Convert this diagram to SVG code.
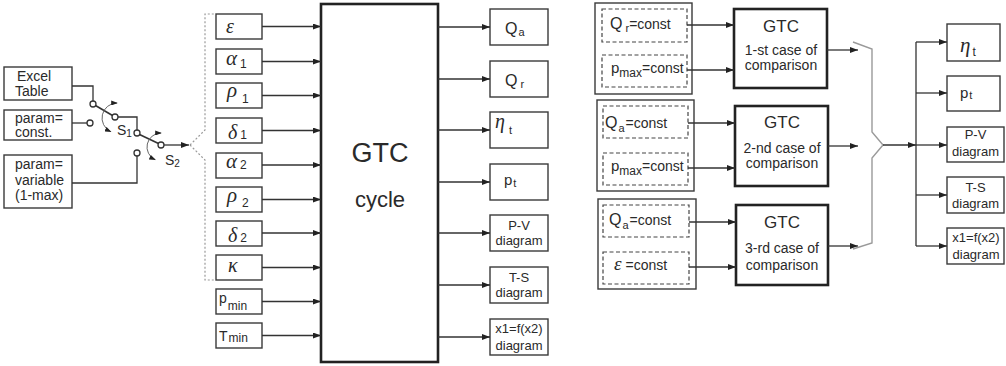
<svg xmlns="http://www.w3.org/2000/svg" width="1006" height="366" viewBox="0 0 1006 366">
<defs>
<marker id="ah" viewBox="0 0 8 6" refX="8" refY="3" markerWidth="8" markerHeight="6" markerUnits="userSpaceOnUse" orient="auto"><path d="M0,0 L8,3 L0,6 z" fill="#222"/></marker>
<marker id="ahs" viewBox="0 0 8 6" refX="7" refY="3" markerWidth="7" markerHeight="5" markerUnits="userSpaceOnUse" orient="auto-start-reverse"><path d="M0,0 L8,3 L0,6 z" fill="#222"/></marker>
<style>
.box{fill:#fff;stroke:#3a3a3a;stroke-width:1.4}
.thick{fill:#fff;stroke:#222;stroke-width:2.6}
.dash{fill:none;stroke:#444;stroke-width:1.2;stroke-dasharray:4 2.5}
.wire{fill:none;stroke:#333;stroke-width:1.3}
.arr{marker-end:url(#ah)}
.gray{fill:none;stroke:#9a9a9a;stroke-width:1.4}
.gdash{fill:none;stroke:#9a9a9a;stroke-width:1.2;stroke-dasharray:2 2}
.ct{fill:#fff;stroke:#333;stroke-width:1.3}
.arc{fill:none;stroke:#666;stroke-width:1;marker-start:url(#ahs);marker-end:url(#ahs)}
text{font-family:"Liberation Sans",Arial,sans-serif;fill:#2a2a2a}
.g{font-family:"Liberation Serif","Times New Roman",serif;font-style:italic}
.m{text-anchor:middle}
</style>
</defs>
<rect width="1006" height="366" fill="#fff"/>

<!-- left sources -->
<g id="src-excel"><rect class="box" x="4" y="67" width="68" height="33"/><text x="17" y="81" font-size="14">Excel</text><text x="15" y="96" font-size="14">Table</text></g>
<g id="src-const"><rect class="box" x="4" y="110" width="68" height="30"/><text x="15" y="123" font-size="14">param=</text><text x="15" y="137" font-size="14">const.</text></g>
<g id="src-var"><rect class="box" x="4" y="155" width="68" height="53"/><text x="15" y="169" font-size="14">param=</text><text x="15" y="185" font-size="14">variable</text><text x="15" y="200" font-size="14">(1-max)</text></g>

<!-- switches -->
<g id="switch-S1">
<line class="wire" x1="95.5" y1="105.5" x2="112.5" y2="115.5" style="stroke-width:1.6"/>
<circle class="ct" cx="93" cy="104" r="3"/><circle class="ct" cx="90" cy="123" r="3"/><circle class="ct" cx="115" cy="117" r="3"/>
<path class="arc" d="M117,103 A15,15 0 0 0 110.7,131.6"/>
<text x="117" y="135" font-size="14">S<tspan font-size="10" dy="2">1</tspan></text>
</g>
<g id="switch-S2">
<line class="wire" x1="139.5" y1="134.5" x2="158.5" y2="143.5" style="stroke-width:1.6"/>
<circle class="ct" cx="137" cy="133" r="3"/><circle class="ct" cx="137" cy="153" r="3"/><circle class="ct" cx="161" cy="145" r="3"/>
<path class="arc" d="M161,133 A14,14 0 0 0 155.1,159.7"/>
<text x="165" y="165" font-size="14">S<tspan font-size="10" dy="2">2</tspan></text>
</g>

<!-- inputs -->
<g id="in-eps"><rect class="box" x="216" y="14" width="46" height="25"/><text class="g" x="226" y="33" font-size="20">ε</text></g>
<g id="in-alpha1"><rect class="box" x="216" y="49" width="46" height="25"/><text x="226" y="65"><tspan class="g" font-size="21">α</tspan><tspan font-size="12" dx="3" dy="3">1</tspan></text></g>
<g id="in-rho1"><rect class="box" x="216" y="83" width="46" height="25"/><text x="227" y="97"><tspan class="g" font-size="21">ρ</tspan><tspan font-size="12" dx="5" dy="6">1</tspan></text></g>
<g id="in-delta1"><rect class="box" x="216" y="118" width="46" height="25"/><text x="228" y="139"><tspan class="g" font-size="20">δ</tspan><tspan font-size="12" dx="3">1</tspan></text></g>
<g id="in-alpha2"><rect class="box" x="216" y="153" width="46" height="25"/><text x="226" y="168"><tspan class="g" font-size="21">α</tspan><tspan font-size="12" dx="3" dy="1">2</tspan></text></g>
<g id="in-rho2"><rect class="box" x="216" y="187" width="46" height="25"/><text x="227" y="202"><tspan class="g" font-size="21">ρ</tspan><tspan font-size="12" dx="5" dy="5">2</tspan></text></g>
<g id="in-delta2"><rect class="box" x="216" y="221" width="46" height="25"/><text x="228" y="242"><tspan class="g" font-size="20">δ</tspan><tspan font-size="12" dx="3">2</tspan></text></g>
<g id="in-kappa"><rect class="box" x="216" y="255" width="46" height="25"/><text class="g" x="228" y="272" font-size="20">κ</text></g>
<g id="in-pmin"><rect class="box" x="216" y="289" width="46" height="25"/><text x="219" y="303"><tspan font-size="14">p</tspan><tspan font-size="12" dx="1" dy="7">min</tspan></text></g>
<g id="in-tmin"><rect class="box" x="216" y="323" width="46" height="25"/><text x="219" y="341"><tspan font-size="14">T</tspan><tspan font-size="12" dx="1" dy="1">min</tspan></text></g>

<!-- main GTC -->
<g id="gtc-cycle"><rect class="thick" x="321" y="4" width="117" height="358"/><text class="m" x="380" y="162" font-size="27">GTC</text><text class="m" x="380" y="207" font-size="22">cycle</text></g>

<!-- left outputs -->
<g id="out-Qa"><rect class="box" x="490" y="9" width="58" height="36"/><text x="505" y="34"><tspan font-size="16">Q</tspan><tspan font-size="11" dx="1" dy="2">a</tspan></text></g>
<g id="out-Qr"><rect class="box" x="490" y="61" width="58" height="36"/><text x="505" y="86"><tspan font-size="16">Q</tspan><tspan font-size="11" dx="3" dy="2">r</tspan></text></g>
<g id="out-eta"><rect class="box" x="490" y="112" width="58" height="36"/><text x="495" y="128"><tspan class="g" font-size="20">η</tspan><tspan font-size="11" dx="4" dy="6">t</tspan></text></g>
<g id="out-pt"><rect class="box" x="490" y="164" width="58" height="36"/><text x="504" y="185"><tspan font-size="15">p</tspan><tspan font-size="11" dx="1" dy="2">t</tspan></text></g>
<g id="out-pv"><rect class="box" x="490" y="215" width="58" height="36"/><text class="m" x="519" y="230" font-size="13">P-V</text><text class="m" x="519" y="245" font-size="13">diagram</text></g>
<g id="out-ts"><rect class="box" x="490" y="267" width="58" height="36"/><text class="m" x="519" y="282" font-size="13">T-S</text><text class="m" x="519" y="297" font-size="13">diagram</text></g>
<g id="out-x1"><rect class="box" x="490" y="319" width="58" height="36"/><text class="m" x="519" y="333" font-size="13">x1=f(x2)</text><text class="m" x="519" y="350" font-size="13">diagram</text></g>

<!-- right: case groups -->
<g id="case1-inputs"><rect class="box" x="595" y="3" width="97" height="91"/>
<rect class="dash" x="602" y="9" width="85" height="33"/><text x="610" y="29"><tspan font-size="16">Q</tspan><tspan font-size="11" dx="3" dy="3">r</tspan><tspan font-size="14" dy="-3">=const</tspan></text>
<rect class="dash" x="602" y="55" width="85" height="32"/><text x="611" y="73"><tspan font-size="15">p</tspan><tspan font-size="12" dy="4">max</tspan><tspan font-size="14" dy="-4">=const</tspan></text></g>
<g id="case1-gtc"><rect class="thick" x="734" y="9" width="93" height="79"/><text class="m" x="781" y="32" font-size="17">GTC</text><text class="m" x="781" y="55" font-size="14">1-st case of</text><text class="m" x="781" y="70" font-size="14">comparison</text></g>

<g id="case2-inputs"><rect class="box" x="597" y="100" width="97" height="91"/>
<rect class="dash" x="603" y="106" width="85" height="32"/><text x="605" y="128"><tspan font-size="16">Q</tspan><tspan font-size="11" dx="1" dy="4">a</tspan><tspan font-size="14" dx="1" dy="-4">=const</tspan></text>
<rect class="dash" x="603" y="153" width="85" height="32"/><text x="611" y="171"><tspan font-size="15">p</tspan><tspan font-size="12" dy="4">max</tspan><tspan font-size="14" dy="-4">=const</tspan></text></g>
<g id="case2-gtc"><rect class="thick" x="735" y="106" width="93" height="80"/><text class="m" x="782" y="128" font-size="17">GTC</text><text class="m" x="782" y="153" font-size="14">2-nd case of</text><text class="m" x="782" y="168" font-size="14">comparison</text></g>

<g id="case3-inputs"><rect class="box" x="598" y="199" width="98" height="90"/>
<rect class="dash" x="603" y="205" width="86" height="32"/><text x="609" y="225"><tspan font-size="16">Q</tspan><tspan font-size="11" dx="1" dy="4">a</tspan><tspan font-size="14" dx="1" dy="-4">=const</tspan></text>
<rect class="dash" x="603" y="252" width="86" height="32"/><text x="614" y="270"><tspan class="g" font-size="19">ε</tspan><tspan font-size="14" dx="4">=const</tspan></text></g>
<g id="case3-gtc"><rect class="thick" x="736" y="205" width="92" height="80"/><text class="m" x="782" y="228" font-size="17">GTC</text><text class="m" x="782" y="253" font-size="14">3-rd case of</text><text class="m" x="782" y="270" font-size="14">comparison</text></g>

<!-- right outputs -->
<g id="r-eta"><rect class="box" x="947" y="24" width="53" height="37"/><text x="960" y="52"><tspan class="g" font-size="21">η</tspan><tspan font-size="12" dx="2" dy="4">t</tspan></text></g>
<g id="r-pt"><rect class="box" x="947" y="76" width="53" height="35"/><text x="960" y="98"><tspan font-size="15">p</tspan><tspan font-size="11" dx="1" dy="1">t</tspan></text></g>
<g id="r-pv"><rect class="box" x="947" y="127" width="57" height="35"/><text class="m" x="975.5" y="139" font-size="13">P-V</text><text class="m" x="975.5" y="156" font-size="13">diagram</text></g>
<g id="r-ts"><rect class="box" x="947" y="177" width="57" height="36"/><text class="m" x="975.5" y="192" font-size="13">T-S</text><text class="m" x="975.5" y="208" font-size="13">diagram</text></g>
<g id="r-x1"><rect class="box" x="947" y="228" width="57" height="36"/><text class="m" x="976" y="242" font-size="13">x1=f(x2)</text><text class="m" x="976" y="259" font-size="13">diagram</text></g>

<!-- connectors -->
<g id="connectors">
<path class="wire" d="M72,86 H93 V101"/>
<path class="wire" d="M72,123 H87"/>
<path class="wire" d="M118,117 H137 V130"/>
<path class="wire" d="M72,183 H137 V156"/>
<path class="wire arr" d="M164,145 H189"/>
<path class="gdash" d="M190,145 L205,130 V14 H216"/>
<path class="gdash" d="M190,145 L205,160 V280 H216"/>

<path class="wire arr" d="M262,26.5 H321"/>
<path class="wire arr" d="M262,61.5 H321"/>
<path class="wire arr" d="M262,95.5 H321"/>
<path class="wire arr" d="M262,130.5 H321"/>
<path class="wire arr" d="M262,165 H321"/>
<path class="wire arr" d="M262,199.5 H321"/>
<path class="wire arr" d="M262,233 H321"/>
<path class="wire arr" d="M262,267.5 H321"/>
<path class="wire arr" d="M262,301.5 H321"/>
<path class="wire arr" d="M262,335.5 H321"/>

<path class="wire arr" d="M438,27 H490"/>
<path class="wire arr" d="M438,79 H490"/>
<path class="wire arr" d="M438,130 H490"/>
<path class="wire arr" d="M438,182 H490"/>
<path class="wire arr" d="M438,233 H490"/>
<path class="wire arr" d="M438,285 H490"/>
<path class="wire arr" d="M438,337 H490"/>

<path class="wire arr" d="M687,25 H734"/>
<path class="wire arr" d="M687,70 H734"/>
<path class="wire arr" d="M688,123 H735"/>
<path class="wire arr" d="M688,168 H735"/>
<path class="wire arr" d="M689,222 H736"/>
<path class="wire arr" d="M689,267 H736"/>

<path class="wire arr" d="M827,50 H858"/>
<path class="wire arr" d="M828,146 H858"/>
<path class="wire arr" d="M828,246 H858"/>

<path class="gray" d="M853,42 L872,49 V132 L883,145 L872,158 V243 L853,249"/>
<path class="wire arr" d="M883,145 H916"/>
<path class="wire" d="M916,42 V246"/>
<path class="wire arr" d="M916,42 H947"/>
<path class="wire arr" d="M916,93 H947"/>
<path class="wire arr" d="M916,145 H947"/>
<path class="wire arr" d="M916,195 H947"/>
<path class="wire arr" d="M916,246 H947"/>
</g>
</svg>
